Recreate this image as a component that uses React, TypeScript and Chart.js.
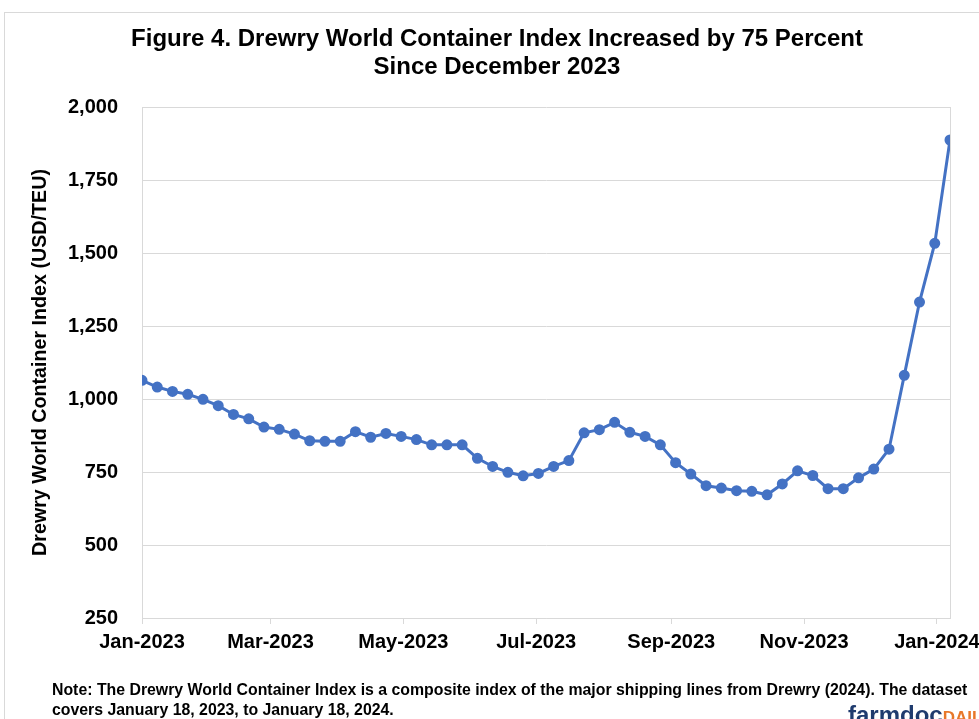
import React, { useEffect, useRef } from "react";
import { Chart, registerables } from "chart.js";

Chart.register(...registerables);

// Weekly observation dates (Thursdays)
const weekDates = [
  "2023-01-12", "2023-01-19", "2023-01-26", "2023-02-02", "2023-02-09", "2023-02-16", "2023-02-23",
  "2023-03-02", "2023-03-09", "2023-03-16", "2023-03-23", "2023-03-30", "2023-04-06", "2023-04-13",
  "2023-04-20", "2023-04-27", "2023-05-04", "2023-05-11", "2023-05-18", "2023-05-25", "2023-06-01",
  "2023-06-08", "2023-06-15", "2023-06-22", "2023-06-29", "2023-07-06", "2023-07-13", "2023-07-20",
  "2023-07-27", "2023-08-03", "2023-08-10", "2023-08-17", "2023-08-24", "2023-08-31", "2023-09-07",
  "2023-09-14", "2023-09-21", "2023-09-28", "2023-10-05", "2023-10-12", "2023-10-19", "2023-10-26",
  "2023-11-02", "2023-11-09", "2023-11-16", "2023-11-23", "2023-11-30", "2023-12-07", "2023-12-14",
  "2023-12-21", "2023-12-28", "2024-01-04", "2024-01-11", "2024-01-18",
];

// Drewry World Container Index (USD/TEU)
const wciValues = [
  1064, 1041, 1026, 1016, 999, 977, 947, 932, 904, 896,
  880, 857, 855, 855, 888, 869, 882, 872, 861, 843,
  843, 843, 797, 769, 749, 737, 745, 769, 789, 884,
  895, 920, 886, 872, 843, 782, 743, 703, 695, 686,
  684, 672, 709, 754, 738, 693, 693, 730, 760, 828,
  1081, 1332, 1533, 1887,
];

const xTickDates = ["2023-01-12", "2023-03-12", "2023-05-12", "2023-07-12", "2023-09-12", "2023-11-12", "2024-01-12"];
const xTickLabels = ["Jan-2023", "Mar-2023", "May-2023", "Jul-2023", "Sep-2023", "Nov-2023", "Jan-2024"];

const titleLines = [
  "Figure 4. Drewry World Container Index Increased by 75 Percent",
  "Since December 2023",
];
const yAxisTitle = "Drewry World Container Index (USD/TEU)";
const noteLines = [
  "Note: The Drewry World Container Index is a composite index of the major shipping lines from Drewry (2024). The dataset",
  "covers January 18, 2023, to January 18, 2024.",
];

const FONT = "'Liberation Sans', Arial, sans-serif";
const DAY = 86400000;
const t0 = Date.parse(weekDates[0]);
const toDay = (d: string) => Math.round((Date.parse(d) - t0) / DAY);

const rightBorder = {
  id: "rightBorder",
  beforeDatasetsDraw(chart: any) {
    const { ctx, chartArea } = chart;
    ctx.save();
    ctx.strokeStyle = "#d9d9d9";
    ctx.lineWidth = 1;
    ctx.beginPath();
    ctx.moveTo(Math.round(chartArea.right) + 0.5, chartArea.top);
    ctx.lineTo(Math.round(chartArea.right) + 0.5, chartArea.bottom);
    ctx.stroke();
    ctx.restore();
  },
};

export default function App() {
  const canvasRef = useRef<HTMLCanvasElement>(null);

  useEffect(() => {
    if (!canvasRef.current) return;
    const points = weekDates.map((d, i) => ({ x: toDay(d), y: wciValues[i] }));
    const tickDays = xTickDates.map(toDay);
    const chart = new Chart(canvasRef.current, {
      type: "line",
      data: {
        datasets: [
          {
            data: points,
            borderColor: "#4472C4",
            backgroundColor: "#4472C4",
            borderWidth: 3,
            pointRadius: 4,
            pointHoverRadius: 4,
            pointBackgroundColor: "#4472C4",
            pointBorderColor: "#4472C4",
            tension: 0,
          },
        ],
      },
      options: {
        animation: false,
        responsive: false,
        maintainAspectRatio: false,
        layout: { padding: { left: 0, right: 29, top: 107, bottom: 1 } },
        plugins: {
          legend: { display: false },
          title: { display: false },
          tooltip: { enabled: false },
        },
        scales: {
          x: {
            type: "linear",
            min: 0,
            max: toDay(weekDates[weekDates.length - 1]),
            afterBuildTicks: (scale: any) => {
              scale.ticks = tickDays.map((v) => ({ value: v }));
            },
            afterFit: (scale: any) => {
              scale.height = 100;
              scale.paddingLeft = 0;
              scale.paddingRight = 0;
            },
            ticks: {
              autoSkip: false,
              maxRotation: 0,
              padding: 6,
              color: "#000",
              font: { family: FONT, size: 20, weight: "bold" },
              callback: (_v: any, i: number) => xTickLabels[i],
            },
            grid: {
              display: true,
              drawOnChartArea: false,
              drawTicks: true,
              tickLength: 6,
              color: "#d9d9d9",
            },
            border: { display: true, color: "#d9d9d9", width: 1 },
          },
          y: {
            min: 250,
            max: 2000,
            afterBuildTicks: (scale: any) => {
              const t = [];
              for (let v = 250; v <= 2000; v += 250) t.push({ value: v });
              scale.ticks = t;
            },
            afterFit: (scale: any) => {
              scale.width = 142;
            },
            ticks: {
              padding: 24,
              color: "#000",
              font: { family: FONT, size: 20, weight: "bold" },
              callback: (v: any) => Number(v).toLocaleString("en-US"),
            },
            grid: { color: "#d9d9d9", lineWidth: 1, drawTicks: false },
            border: { display: true, color: "#d9d9d9", width: 1 },
            title: {
              display: true,
              text: yAxisTitle,
              color: "#000",
              font: { family: FONT, size: 19.7, weight: "bold" },
              padding: { top: 29, bottom: 0 },
            },
          },
        },
      },
      plugins: [rightBorder],
    });
    return () => chart.destroy();
  }, []);

  return (
    <div
      style={{
        position: "absolute",
        left: 0,
        top: 0,
        width: 979,
        height: 719,
        overflow: "hidden",
        background: "#fff",
        fontFamily: FONT,
      }}
    >
      <div
        style={{
          position: "absolute",
          left: 4,
          top: 12,
          width: 1000,
          height: 800,
          borderLeft: "1px solid #d9d9d9",
          borderTop: "1px solid #d9d9d9",
        }}
      />
      <canvas ref={canvasRef} width={979} height={719} style={{ position: "absolute", left: 0, top: 0 }} />
      <div
        style={{
          position: "absolute",
          left: 0,
          width: 994,
          top: 24,
          textAlign: "center",
          fontWeight: "bold",
          fontSize: 24,
          lineHeight: "28px",
          color: "#000",
        }}
      >
        {titleLines.map((l, i) => (
          <div key={i} style={{ whiteSpace: "nowrap" }}>{l}</div>
        ))}
      </div>
      <div
        style={{
          position: "absolute",
          left: 52,
          top: 680,
          fontWeight: "bold",
          fontSize: 15.85,
          lineHeight: "20px",
          color: "#000",
          whiteSpace: "nowrap",
        }}
      >
        {noteLines.map((l, i) => (
          <div key={i}>{l}</div>
        ))}
      </div>
      <div
        style={{
          position: "absolute",
          left: 848,
          top: 701,
          fontWeight: "bold",
          fontSize: 24,
          lineHeight: "28px",
          whiteSpace: "nowrap",
        }}
      >
        <span style={{ color: "#1f3b6e" }}>farmdoc</span>
        <span style={{ color: "#e8782a", fontSize: 17 }}>DAILY</span>
      </div>
    </div>
  );
}
